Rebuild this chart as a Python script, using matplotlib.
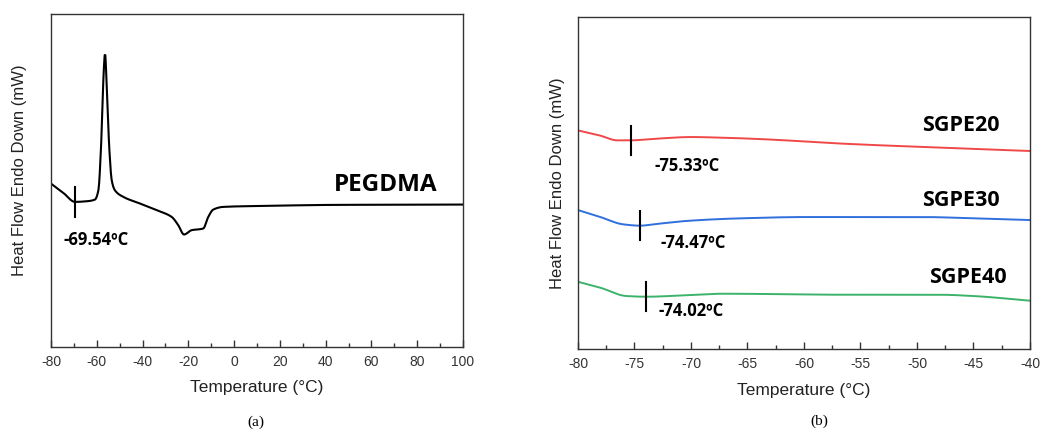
import matplotlib
matplotlib.use("Agg")
import matplotlib.pyplot as plt
from matplotlib.ticker import MultipleLocator, NullLocator
import numpy as np

# (a) PEGDMA DSC trace, arbitrary heat-flow units
peg_t = [-80, -74.6, -69.5, -64.4, -60.8, -59.3, -58.2, -57.2, -56.4, -55.7, -54.5,
         -53.5, -52.1, -48.4, -41.1, -33.9, -27.3, -24.4, -21.9, -18.6, -13.5, -11.3,
         -9.1, -4.7, 14.2, 43.3, 100]
peg_h = [49.1, 46.3, 43.6, 43.8, 44.3, 47.1, 59.2, 79.2, 88.3, 79.2, 59.2,
         50.2, 47.1, 45.1, 43.1, 41.1, 39.1, 36.6, 33.8, 35.1, 35.6, 39.1,
         41.3, 42.1, 42.4, 42.7, 42.8]
peg_tg = -69.54

# (b) SGPE traces
sg_names = ["SGPE20", "SGPE30", "SGPE40"]
sg_colors = ["#f04848", "#2f6fde", "#3cb36a"]
sg_tg = [-75.33, -74.47, -74.02]
sg20_t = [-80, -78.1, -76.5, -75.4, -73.1, -70.0, -67.2, -62.7, -58.3, -53.9, -49.4, -45.0, -40]
sg20_h = [65.9, 64.4, 62.9, 62.9, 63.4, 63.9, 63.7, 63.1, 62.2, 61.5, 60.9, 60.3, 59.7]
sg30_t = [-80, -78.1, -76.0, -74.5, -73.1, -70.1, -65.7, -59.8, -53.9, -49.4, -45.0, -40]
sg30_h = [41.9, 39.9, 37.6, 37.2, 37.7, 38.7, 39.4, 39.8, 39.8, 39.8, 39.4, 38.9]
sg40_t = [-80, -78.1, -75.7, -74.0, -70.1, -67.2, -62.7, -56.8, -50.9, -48.0, -45.0, -40]
sg40_h = [20.3, 18.6, 16.0, 15.8, 16.3, 16.7, 16.6, 16.4, 16.4, 16.4, 16.0, 14.6]


def smooth(t, h, n=600):
    # piecewise cubic with monotone (Fritsch-Carlson) slopes, no overshoot
    t = np.asarray(t, float)
    h = np.asarray(h, float)
    dx = np.diff(t)
    sec = np.diff(h) / dx
    d = np.zeros_like(h)
    for i in range(1, len(h) - 1):
        if sec[i - 1] * sec[i] > 0:
            w1 = 2 * dx[i] + dx[i - 1]
            w2 = dx[i] + 2 * dx[i - 1]
            d[i] = (w1 + w2) / (w1 / sec[i - 1] + w2 / sec[i])
    d[0] = sec[0]
    d[-1] = sec[-1]
    xs = np.linspace(t[0], t[-1], n)
    idx = np.clip(np.searchsorted(t, xs) - 1, 0, len(t) - 2)
    x0, x1 = t[idx], t[idx + 1]
    y0, y1 = h[idx], h[idx + 1]
    m0, m1 = d[idx], d[idx + 1]
    w = x1 - x0
    s = (xs - x0) / w
    ys = ((2 * s**3 - 3 * s**2 + 1) * y0 + (s**3 - 2 * s**2 + s) * w * m0
          + (-2 * s**3 + 3 * s**2) * y1 + (s**3 - s**2) * w * m1)
    return xs, ys


def style_axes(ax, ylab_xy):
    for sp in ax.spines.values():
        sp.set_color("#333333")
        sp.set_linewidth(1.0)
    ax.yaxis.set_major_locator(NullLocator())
    ax.tick_params(axis="x", which="major", direction="in", length=5, width=1,
                   labelsize=10, colors="#333333", pad=6)
    ax.tick_params(axis="x", which="minor", direction="in", length=3, width=1,
                   colors="#333333")
    ax.set_xlabel("Temperature (°C)", fontsize=12.5, color="#222222", labelpad=8)
    ax.set_ylabel("Heat Flow Endo Down (mW)", fontsize=12, color="#222222")
    ax.yaxis.set_label_coords(*ylab_xy)


plt.rcParams["font.family"] = ["Liberation Sans", "DejaVu Sans"]
plt.rcParams["axes.unicode_minus"] = False
fig = plt.figure(figsize=(10.41, 4.30), dpi=100)

# ---- (a)
ax1 = fig.add_axes([0.049, 0.193, 0.3958, 0.774])
x, y = smooth(peg_t, peg_h)
ax1.plot(x, y, color="black", lw=1.5)
yt = np.interp(peg_tg, x, y)
ax1.plot([peg_tg, peg_tg], [yt - 4.4, yt + 4.4], color="black", lw=1.5)
ax1.text(-60.1, 32.3, "-69.54ºC", fontsize=12, fontweight="bold",
         family="Open Sans", ha="center", va="center")
ax1.text(66.1, 48.8, "PEGDMA", fontsize=17.5, fontweight="bold",
         family="Open Sans", ha="center", va="center")
ax1.set_xlim(-80, 100)
ax1.set_ylim(0, 100)
ax1.xaxis.set_major_locator(MultipleLocator(20))
ax1.xaxis.set_minor_locator(MultipleLocator(10))
style_axes(ax1, (-0.058, 0.53))

# ---- (b)
ax2 = fig.add_axes([0.5552, 0.188, 0.4342, 0.772])
sg_t = [sg20_t, sg30_t, sg40_t]
sg_h = [sg20_h, sg30_h, sg40_h]
lab_pos = [(-70.3, 55.3), (-69.8, 31.9), (-70.0, 11.6)]
name_pos = [(-46.1, 67.4), (-46.1, 44.9), (-45.5, 21.6)]
for t, h, c, tg, name, lp, npos in zip(sg_t, sg_h, sg_colors, sg_tg, sg_names,
                                       lab_pos, name_pos):
    x, y = smooth(t, h)
    ax2.plot(x, y, color=c, lw=1.4)
    yt = np.interp(tg, x, y)
    ax2.plot([tg, tg], [yt - 4.4, yt + 4.4], color="black", lw=1.5)
    ax2.text(lp[0], lp[1], f"{tg:.2f}ºC", fontsize=12, fontweight="bold",
             family="Open Sans", ha="center", va="center")
    ax2.text(npos[0], npos[1], name, fontsize=15.5, fontweight="bold",
             family="Open Sans", ha="center", va="center")
ax2.set_xlim(-80, -40)
ax2.set_ylim(0, 100)
ax2.xaxis.set_major_locator(MultipleLocator(5))
ax2.xaxis.set_minor_locator(MultipleLocator(2.5))
style_axes(ax2, (-0.029, 0.50))

fig.text(256 / 1041, 1 - 422 / 430, "(a)", fontsize=11, family="Liberation Serif",
         ha="center", va="center")
fig.text(819 / 1041, 1 - 421 / 430, "(b)", fontsize=11, family="Liberation Serif",
         ha="center", va="center")

fig.savefig("out.png", dpi=100)
